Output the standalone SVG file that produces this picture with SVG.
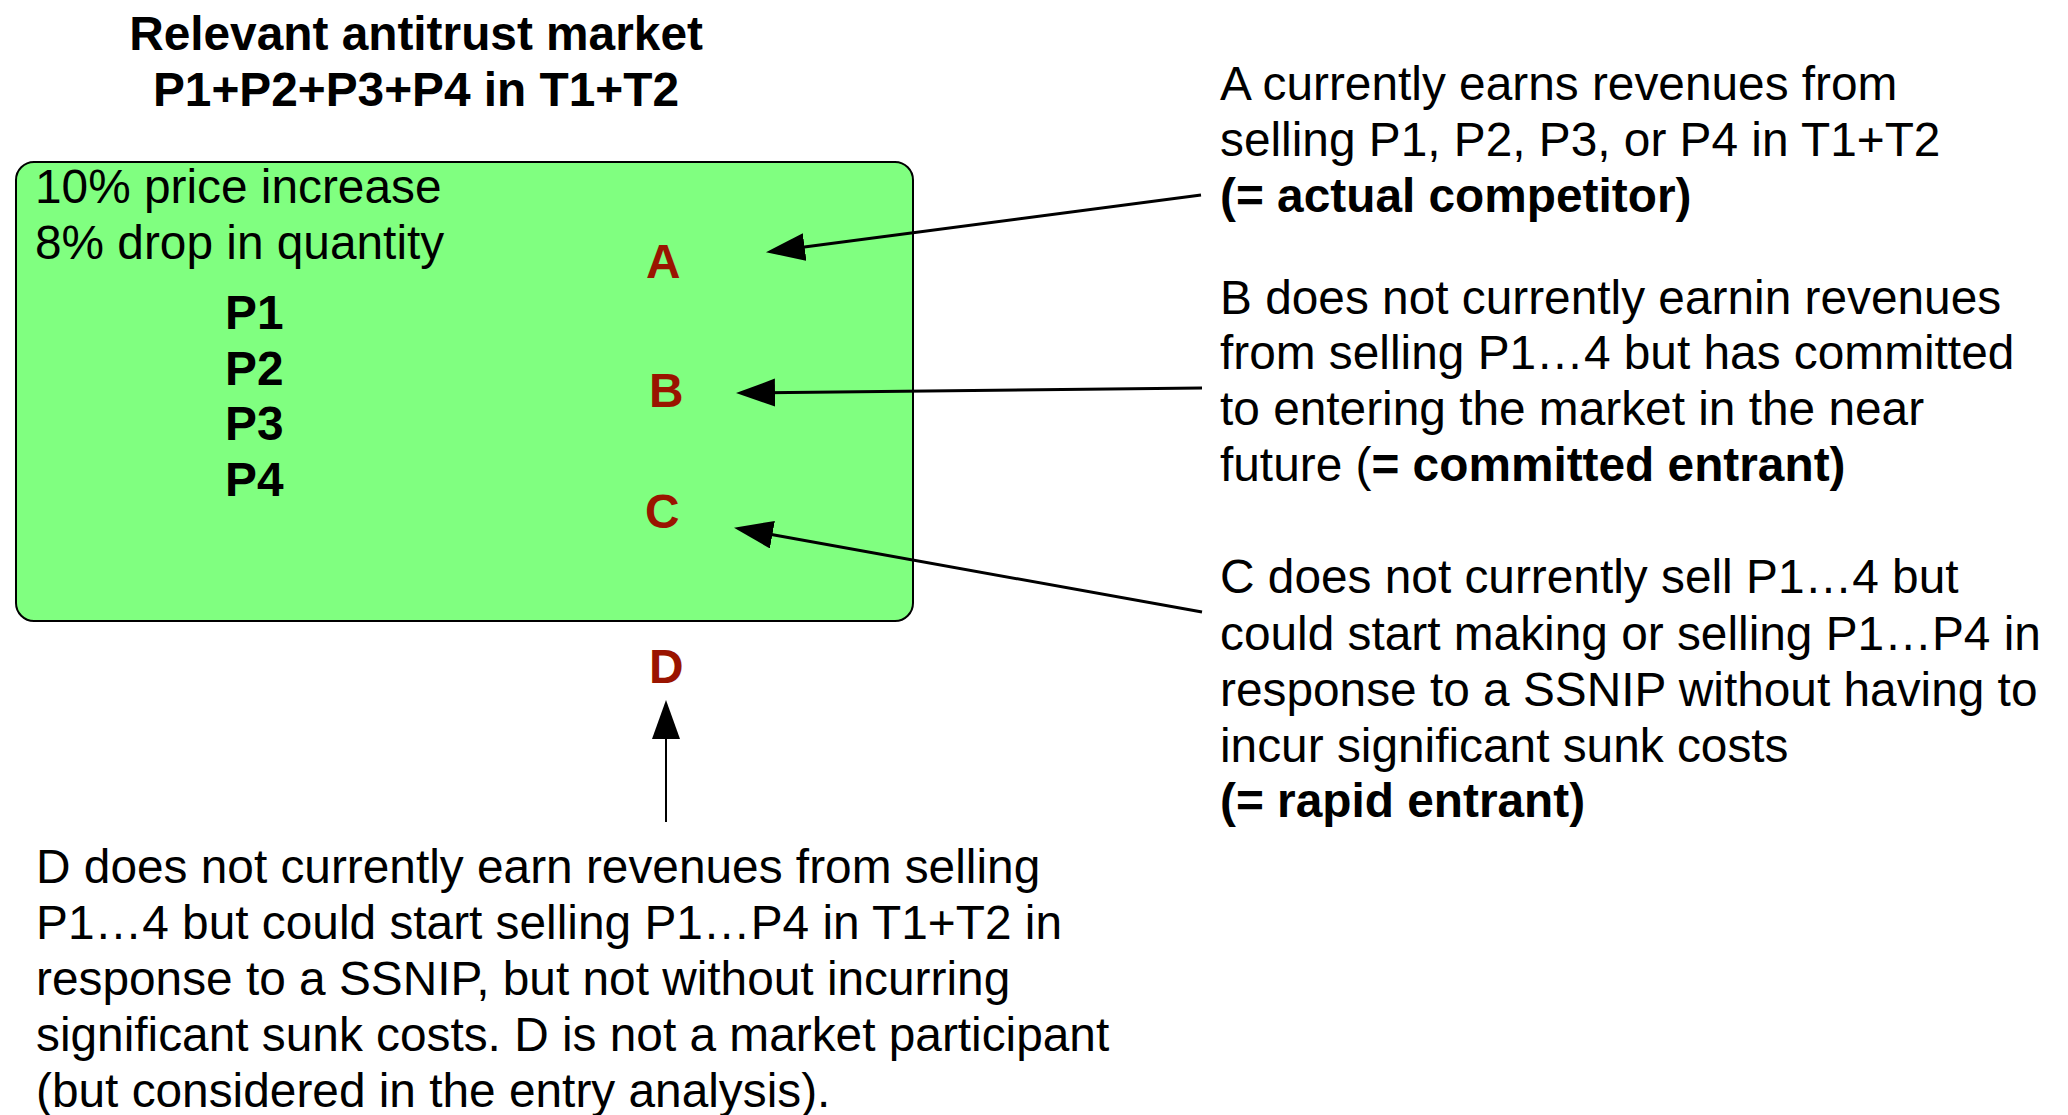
<svg xmlns="http://www.w3.org/2000/svg" width="2068" height="1115" viewBox="0 0 2068 1115">
  <style>
    text { font-family: "Liberation Sans", Arial, Helvetica, sans-serif; font-size: 47.8px; fill: #000; }
    .b { font-weight: bold; }
    .lbl { font-weight: bold; fill: #9A1400; }
    .conn { stroke: #000; stroke-width: 3; fill: none; }
    .thin { stroke-width: 2; }
  </style>
  <defs>
    <marker id="arrow" markerUnits="userSpaceOnUse" markerWidth="40" markerHeight="30" refX="8" refY="14" orient="auto" viewBox="0 0 40 30">
      <path d="M0,0 L39,14 L0,28 Z" fill="#000"/>
    </marker>
  </defs>
  <rect width="2068" height="1115" fill="#fff"/>

  <g id="title">
    <text class="b" x="416" y="50" text-anchor="middle">Relevant antitrust market</text>
    <text class="b" x="416" y="106" text-anchor="middle">P1+P2+P3+P4 in T1+T2</text>
  </g>

  <g id="market">
    <rect x="16" y="162" width="897" height="459" rx="18" ry="18" fill="#80FF80" stroke="#000" stroke-width="2"/>
    <text x="35" y="203">10% price increase</text>
    <text x="35" y="259">8% drop in quantity</text>
    <text class="b" x="225" y="329">P1</text>
    <text class="b" x="225" y="385">P2</text>
    <text class="b" x="225" y="440">P3</text>
    <text class="b" x="225" y="496">P4</text>
  </g>

  <g id="nodeA"><text class="lbl" x="646" y="278">A</text></g>
  <g id="nodeB"><text class="lbl" x="649" y="407">B</text></g>
  <g id="nodeC"><text class="lbl" x="645" y="528">C</text></g>
  <g id="nodeD"><text class="lbl" x="649" y="683">D</text></g>

  <g id="descA">
    <text x="1220" y="100">A currently earns revenues from</text>
    <text x="1220" y="156">selling P1, P2, P3, or P4 in T1+T2</text>
    <text x="1220" y="212" class="b">(= actual competitor)</text>
  </g>

  <g id="descB">
    <text x="1220" y="314">B does not currently earnin revenues</text>
    <text x="1220" y="369">from selling P1…4 but has committed</text>
    <text x="1220" y="425">to entering the market in the near</text>
    <text x="1220" y="481">future (<tspan class="b">= committed entrant)</tspan></text>
  </g>

  <g id="descC">
    <text x="1220" y="593">C does not currently sell P1…4 but</text>
    <text x="1220" y="650">could start making or selling P1…P4 in</text>
    <text x="1220" y="706">response to a SSNIP without having to</text>
    <text x="1220" y="762">incur significant sunk costs</text>
    <text x="1220" y="817" class="b">(= rapid entrant)</text>
  </g>

  <g id="descD">
    <text x="36" y="883">D does not currently earn revenues from selling</text>
    <text x="36" y="939">P1…4 but could start selling P1…P4 in T1+T2 in</text>
    <text x="36" y="995">response to a SSNIP, but not without incurring</text>
    <text x="36" y="1051">significant sunk costs. D is not a market participant</text>
    <text x="36" y="1107">(but considered in the entry analysis).</text>
  </g>

  <g id="connectors">
    <path class="conn" d="M1201,195 L796.7,248.1" marker-end="url(#arrow)"/>
    <path class="conn" d="M1202,388 L767,392.7" marker-end="url(#arrow)"/>
    <path class="conn" d="M1202,612 L764.5,533.3" marker-end="url(#arrow)"/>
    <path class="conn thin" d="M666,822 L666,731" marker-end="url(#arrow)"/>
  </g>
</svg>
